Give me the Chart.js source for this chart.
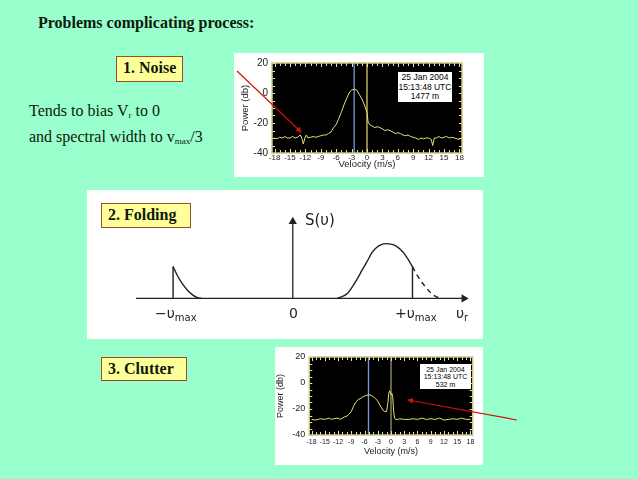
<!DOCTYPE html>
<html>
<head>
<meta charset="utf-8">
<script src="https://cdn.jsdelivr.net/npm/chart.js@4.4.1/dist/chart.umd.min.js"></script>
<style>
  body { margin: 0; background: #99ffcc; }
  #slide { position: relative; width: 638px; height: 479px; background: #99ffcc; overflow: hidden;
           font-family: "Liberation Serif", "Times New Roman", serif; color: #0d1a0d; }
  .abs { position: absolute; white-space: nowrap; }
  .tag { position: absolute; box-sizing: border-box; background: #ffff99; border: 1.5px solid #9c4a2a;
         font-weight: bold; font-size: 16px; line-height: 22px; padding-left: 6px; white-space: nowrap; }
  .panel { position: absolute; background: #fff; }
  .stamp { position: absolute; background: #fff; color: #000; text-align: center;
           font-family: "Liberation Sans", Arial, sans-serif; }
  .hand { position: absolute; font-family: "DejaVu Sans", sans-serif; font-size: 14px; color: #222; white-space: nowrap; }
  .hand sub { font-size: 10px; vertical-align: -3px; }
  canvas { position: absolute; }
</style>
</head>
<body>
<div id="slide">
  <div class="abs" style="left:38px;top:14px;font-size:16px;font-weight:bold;">Problems complicating process:</div>

  <div class="tag" style="left:116px;top:56px;width:67px;height:26px;">1. Noise</div>
  <div class="abs" style="left:29px;top:100px;font-size:16px;line-height:21px;">
    Tends to bias V<sub style="font-size:9px;vertical-align:-2px;">r</sub> to 0<br>
    and spectral width to v<sub style="font-size:9px;vertical-align:-2px;">max</sub>/3
  </div>

  <div class="panel" style="left:234px;top:53px;width:250px;height:124px;"></div>
  <canvas id="noiseChart" width="250" height="124" style="left:234px;top:53px;"></canvas>
  <div class="stamp" style="left:398px;top:72px;width:54px;height:30px;font-size:8.5px;line-height:9.6px;padding-top:1px;box-sizing:border-box;">25 Jan 2004<br>15:13:48 UTC<br>1477 m</div>

  <div class="panel" style="left:87px;top:190px;width:396px;height:149px;"></div>
  <canvas id="foldChart" width="396" height="149" style="left:87px;top:190px;"></canvas>
  <div class="tag" style="left:101px;top:203px;width:90px;height:25px;">2. Folding</div>
  <div class="hand" style="left:305px;top:211px;font-size:15px;">S(υ)</div>
  <div class="hand" style="left:155px;top:305px;">−υ<sub>max</sub></div>
  <div class="hand" style="left:289px;top:305px;">0</div>
  <div class="hand" style="left:395px;top:305px;">+υ<sub>max</sub></div>
  <div class="hand" style="left:456px;top:305px;">υ<sub>r</sub></div>

  <div class="tag" style="left:101px;top:357px;width:86px;height:24px;line-height:21px;">3. Clutter</div>

  <div class="panel" style="left:275px;top:347px;width:208px;height:118px;"></div>
  <canvas id="clutterChart" width="208" height="118" style="left:275px;top:347px;"></canvas>
  <div class="stamp" style="left:420px;top:364px;width:51px;height:25px;font-size:7px;line-height:7.5px;padding-top:1.5px;box-sizing:border-box;">25 Jan 2004<br>15:13:48 UTC<br>532 m</div>

  <svg class="abs" width="638" height="479" style="left:0;top:0;">
    <defs>
      <marker id="head" markerWidth="6" markerHeight="6" refX="5" refY="3" orient="auto" markerUnits="userSpaceOnUse">
        <path d="M0,0 L6,3 L0,6 z" fill="#d01010"/>
      </marker>
    </defs>
    <line x1="237" y1="71" x2="301" y2="132" stroke="#d01010" stroke-width="1.2" marker-end="url(#head)"/>
    <line x1="517" y1="420" x2="408" y2="400" stroke="#d01010" stroke-width="1.2" marker-end="url(#head)"/>
  </svg>
</div>

<script>
// tick labels
const velTicks = [-18, -15, -12, -9, -6, -3, 0, 3, 6, 9, 12, 15, 18];
const powTicks = [20, 0, -20, -40];

// 1. noise spectrum (1477 m)
const noiseVel = [-18, -17.5, -17, -16.5, -16, -15.5, -15, -14.5, -14, -13.5, -13, -12.7, -12.4, -12.1, -11.8, -11.5, -11, -10.5, -10, -9.5, -9, -8.5, -8, -7.5, -7, -6.5, -6, -5.5, -5, -4.5, -4, -3.5, -3, -2.5, -2, -1.5, -1, -0.5, 0, 0.2, 0.5, 1, 1.5, 2, 2.5, 3, 3.5, 4, 4.5, 5, 5.5, 6, 6.5, 7, 7.5, 8, 8.5, 9, 9.5, 10, 10.5, 11, 11.5, 12, 12.5, 12.8, 13.1, 13.5, 14, 14.5, 15, 15.5, 16, 16.5, 17, 17.5, 18];
const noisePow = [-30, -30.5, -29.5, -30, -29, -30, -30, -29, -30, -29.5, -28, -30, -34, -30, -28, -30, -29.5, -29, -29.5, -29, -28.5, -28, -28, -27, -26, -23, -21, -17, -13, -8, -4, 0, 2, 2.5, 2, -1, -4, -8, -13, -19, -21, -22, -23, -22.5, -23, -24, -25, -24.5, -25, -26, -27, -26.5, -27, -28, -28.5, -28, -29, -29.5, -30, -31, -30, -30.5, -30, -30, -31, -35, -30, -30, -29, -30, -29.5, -29, -30, -29.5, -30, -30.5, -31];
const noiseMeanVel = -2.5;

// 3. clutter spectrum (532 m)
const clutVel = [-18, -17, -16, -15, -14, -13.5, -13, -12, -11.5, -11, -10.5, -10, -9.5, -9, -8.5, -8, -7.5, -7, -6.5, -6, -5.5, -5, -4.5, -4, -3.5, -3, -2.5, -2, -1.5, -1, -0.7, -0.5, -0.3, 0, 0.2, 0.4, 0.6, 0.8, 1, 1.5, 2, 3, 4, 5, 6, 7, 8, 9, 10, 11, 12, 13, 14, 15, 16, 17, 18];
const clutPow = [-28, -28.5, -27.5, -28, -27, -28, -27.5, -27, -28, -27, -26, -25.5, -24, -22, -18, -15, -13, -12, -11, -10, -9.5, -9, -9.5, -10.5, -12, -14, -17, -20, -22, -22, -15, -8, -6, -9, -8, -11, -22, -27, -28, -28, -27.5, -28, -28, -27.5, -28, -27, -28, -27.5, -28, -27, -28.5, -28, -27.5, -28, -27, -28, -28];
const clutMeanVel = -5.1;

// 2. folding sketch, velocity in units of vmax, S normalised to peak
const axisVel = [-1.31, 1.43];
const axisS = [0, 1.4];
const cutS = [0, 0.58];          // height where the spectrum is cut at +/- vmax
const foldedVel = [-1, -0.96, -0.92, -0.88, -0.84, -0.8, -0.76];
const foldedS = [0.58, 0.4, 0.26, 0.15, 0.07, 0.02, 0];
const bellVel = [0.37, 0.42, 0.46, 0.5, 0.54, 0.58, 0.62, 0.66, 0.7, 0.74, 0.78, 0.82, 0.86, 0.9, 0.94, 0.97, 1.0];
const bellS = [0, 0.04, 0.1, 0.22, 0.36, 0.52, 0.67, 0.83, 0.93, 0.98, 1.0, 0.99, 0.96, 0.89, 0.79, 0.69, 0.58];
const aliasVel = [1.0, 1.04, 1.08, 1.12, 1.16, 1.2, 1.25];
const aliasS = [0.58, 0.42, 0.29, 0.18, 0.09, 0.03, 0];

function pts(xs, ys) {
  return xs.map((x, i) => ({ x: x, y: ys[i] }));
}

// black plot area, yellow frame and small inside ticks like the IDL plots
const idlFrame = {
  id: 'idlFrame',
  beforeDatasetsDraw(chart) {
    const a = chart.chartArea, c = chart.ctx;
    c.save();
    c.fillStyle = '#000';
    c.fillRect(a.left, a.top, a.right - a.left, a.bottom - a.top);
    c.restore();
  },
  afterDatasetsDraw(chart) {
    const a = chart.chartArea, c = chart.ctx;
    const xs = chart.scales.x, ys = chart.scales.y;
    c.save();
    c.strokeStyle = '#e0e0d0';
    c.lineWidth = 1;
    c.beginPath();
    for (let v = -18; v <= 18; v++) {
      const px = Math.round(xs.getPixelForValue(v)) + 0.5;
      const len = v % 3 === 0 ? 4 : 3;
      c.moveTo(px, a.top); c.lineTo(px, a.top + len);
      c.moveTo(px, a.bottom); c.lineTo(px, a.bottom - len);
    }
    for (let v = -40; v <= 20; v += 5) {
      const py = Math.round(ys.getPixelForValue(v)) + 0.5;
      c.moveTo(a.left, py); c.lineTo(a.left + 3, py);
      c.moveTo(a.right, py); c.lineTo(a.right - 3, py);
    }
    c.stroke();
    c.strokeStyle = '#cfc57a';
    c.lineWidth = 1.5;
    c.strokeRect(a.left, a.top, a.right - a.left, a.bottom - a.top);
    c.restore();
  }
};

function spectrumChart(id, vel, pow, meanVel, zeroColor, box) {
  const ctx = document.getElementById(id).getContext('2d');
  return new Chart(ctx, {
    type: 'line',
    data: {
      datasets: [
        { data: pts(vel, pow), borderColor: '#e8de72', borderWidth: 1, pointRadius: 0, tension: 0 },
        { data: pts([meanVel, meanVel], [-40, 20]), borderColor: '#7d97da', borderWidth: 1.3, pointRadius: 0 },
        { data: pts([0, 0], [-40, 20]), borderColor: zeroColor, borderWidth: 1.3, pointRadius: 0 }
      ]
    },
    options: {
      responsive: false,
      animation: false,
      layout: { padding: { left: 0, top: box.top, right: box.right, bottom: box.bottom } },
      plugins: { legend: { display: false }, tooltip: { enabled: false } },
      scales: {
        x: {
          type: 'linear', min: -18.5, max: 18.5,
          afterBuildTicks: s => { s.ticks = velTicks.map(v => ({ value: v })); },
          afterFit: s => { s.height = box.xh; },
          grid: { display: false, drawTicks: false },
          border: { display: false },
          ticks: { color: '#222', padding: box.xpad, maxRotation: 0, autoSkip: false,
                   font: { family: 'Liberation Sans', size: box.xfont } },
          title: { display: true, text: 'Velocity (m/s)', color: '#222', padding: 0,
                   font: { family: 'Liberation Sans', size: box.tfont } }
        },
        y: {
          min: -40, max: 20,
          afterBuildTicks: s => { s.ticks = powTicks.map(v => ({ value: v })); },
          afterFit: s => { s.width = box.yw; },
          grid: { display: false, drawTicks: false },
          border: { display: false },
          ticks: { color: '#222', padding: 4, font: { family: 'Liberation Sans', size: box.yfont } },
          title: { display: true, text: 'Power (db)', color: '#222', padding: { top: box.ytp, bottom: 0 },
                   font: { family: 'Liberation Sans', size: box.tfont } }
        }
      }
    },
    plugins: [idlFrame]
  });
}

spectrumChart('noiseChart', noiseVel, noisePow, noiseMeanVel, '#d9c95e',
  { top: 10, right: 22, bottom: 6.6, xh: 17.4, yw: 38, xpad: 0, ytp: 5.6, xfont: 8, yfont: 10, tfont: 9.5 });
spectrumChart('clutterChart', clutVel, clutPow, clutMeanVel, '#9c9870',
  { top: 10, right: 10.3, bottom: 7.6, xh: 22.4, yw: 34.3, xpad: 3, ytp: 0, xfont: 7, yfont: 9, tfont: 9 });

// folding sketch
const ink = '#222';
const stroke = { borderColor: ink, borderWidth: 1.4, pointRadius: 0, cubicInterpolationMode: 'monotone' };
new Chart(document.getElementById('foldChart').getContext('2d'), {
  type: 'line',
  data: {
    datasets: [
      { data: pts(axisVel, [0, 0]), borderColor: ink, borderWidth: 1.3, backgroundColor: ink,
        pointStyle: 'triangle', pointRotation: 90, pointRadius: c => c.dataIndex === 1 ? 3.5 : 0 },
      { data: pts([0, 0], axisS), borderColor: ink, borderWidth: 1.3, backgroundColor: ink,
        pointStyle: 'triangle', pointRotation: 0, pointRadius: c => c.dataIndex === 1 ? 3.5 : 0 },
      Object.assign({ data: pts([-1, -1], cutS) }, stroke),
      Object.assign({ data: pts(foldedVel, foldedS) }, stroke),
      Object.assign({ data: pts(bellVel, bellS) }, stroke),
      Object.assign({ data: pts([1, 1], cutS) }, stroke),
      Object.assign({ data: pts(aliasVel, aliasS), borderDash: [5, 4] }, stroke)
    ]
  },
  options: {
    responsive: false,
    animation: false,
    layout: { padding: 0 },
    plugins: { legend: { display: false }, tooltip: { enabled: false } },
    scales: {
      x: { type: 'linear', display: false, min: -1.675, max: 1.545 },
      y: { display: false, min: -0.644, max: 1.881 }
    }
  }
});
</script>
</body>
</html>
